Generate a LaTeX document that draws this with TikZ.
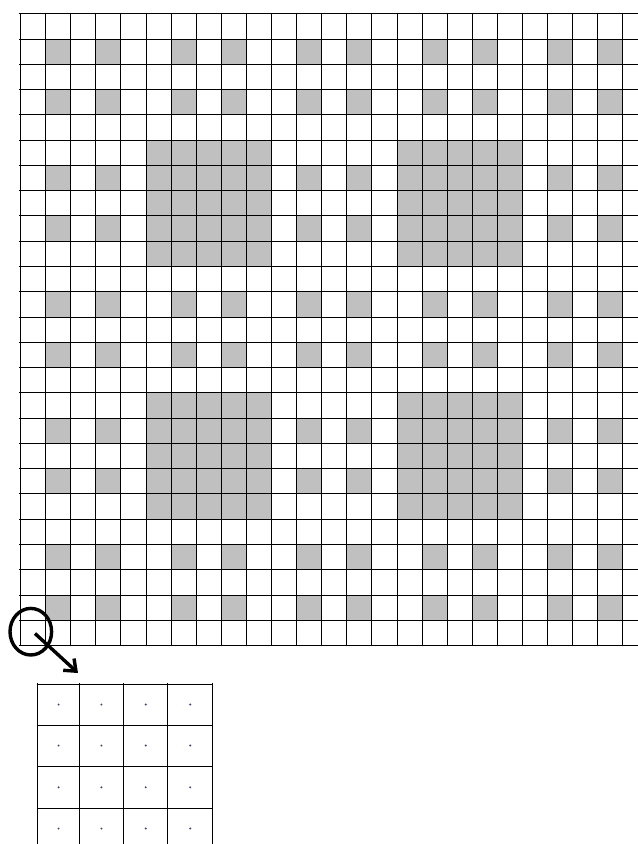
\documentclass[tikz,border=0pt]{standalone}
\usetikzlibrary{arrows.meta}
\definecolor{cellgray}{RGB}{192,192,192}
\definecolor{dotcol}{RGB}{60,70,110}
\tikzset{
  gridline/.style={line width=1.5bp, black},
  shadecell/.style={fill=cellgray},
  lensring/.style={line width=3.4bp, black},
  zoomarrow/.style={line width=3.4bp, black, -{Straight Barb[length=10bp,width=16bp]}},
  griddot/.style={fill=dotcol}
}
\begin{document}
\begin{tikzpicture}[x=1bp,y=-1bp]
\useasboundingbox (0,0) rectangle (638,844);
\fill[white] (0,0) rectangle (638,844);
\def\xo{20}\def\yo{13.3}\def\cw{25.1}\def\ch{25.27}
% small shaded cells
\foreach \r in {1,3,6,8,11,13,16,18,21,23}{
  \foreach \c in {1,3,6,8,11,13,16,18,21,23}{
    \fill[shadecell] ({round(\xo+\c*\cw)+0.5},{round(\yo+\r*\ch)+0.5}) rectangle ({round(\xo+(\c+1)*\cw)+0.5},{round(\yo+(\r+1)*\ch)+0.5});
  }
}
% large shaded blocks
\foreach \br in {5,15}{
  \foreach \bc in {5,15}{
    \fill[shadecell] ({round(\xo+\bc*\cw)+0.5},{round(\yo+\br*\ch)+0.5}) rectangle ({round(\xo+(\bc+5)*\cw)+0.5},{round(\yo+(\br+5)*\ch)+0.5});
  }
}
% grid lines
\foreach \c in {0,...,24}{
  \draw[gridline] ({round(\xo+\c*\cw)+0.5},{\yo-0.5}) -- ({round(\xo+\c*\cw)+0.5},{\yo+25*\ch+1});
}
\foreach \r in {0,...,25}{
  \draw[gridline] ({\xo-1.5},{round(\yo+\r*\ch)+0.5}) -- (638,{round(\yo+\r*\ch)+0.5});
}
% magnifier circle and arrow
\coordinate (lenscenter) at (30.8,631.7);
\draw[lensring] (lenscenter) ellipse [x radius=20.8bp, y radius=23.3bp];
\coordinate (arrowstart) at (35,633.5);
\coordinate (arrowtip) at (78,673);
\draw[zoomarrow] (arrowstart) -- (arrowtip);
% enlarged grid
\foreach \x in {37.5,79.5,123.5,167.5,212.5}{
  \draw[gridline] (\x,682.5) -- (\x,844);
}
\foreach \y in {684.5,725.5,766.5,808.5}{
  \draw[gridline] (36.5,\y) -- (213.2,\y);
}
\foreach \x in {58.6,101.4,145.7,190.2}{
  \foreach \y in {704.5,745.5,787.3,828.5}{
    \fill[griddot] (\x,\y) circle (1.1bp);
  }
}
\end{tikzpicture}
\end{document}
